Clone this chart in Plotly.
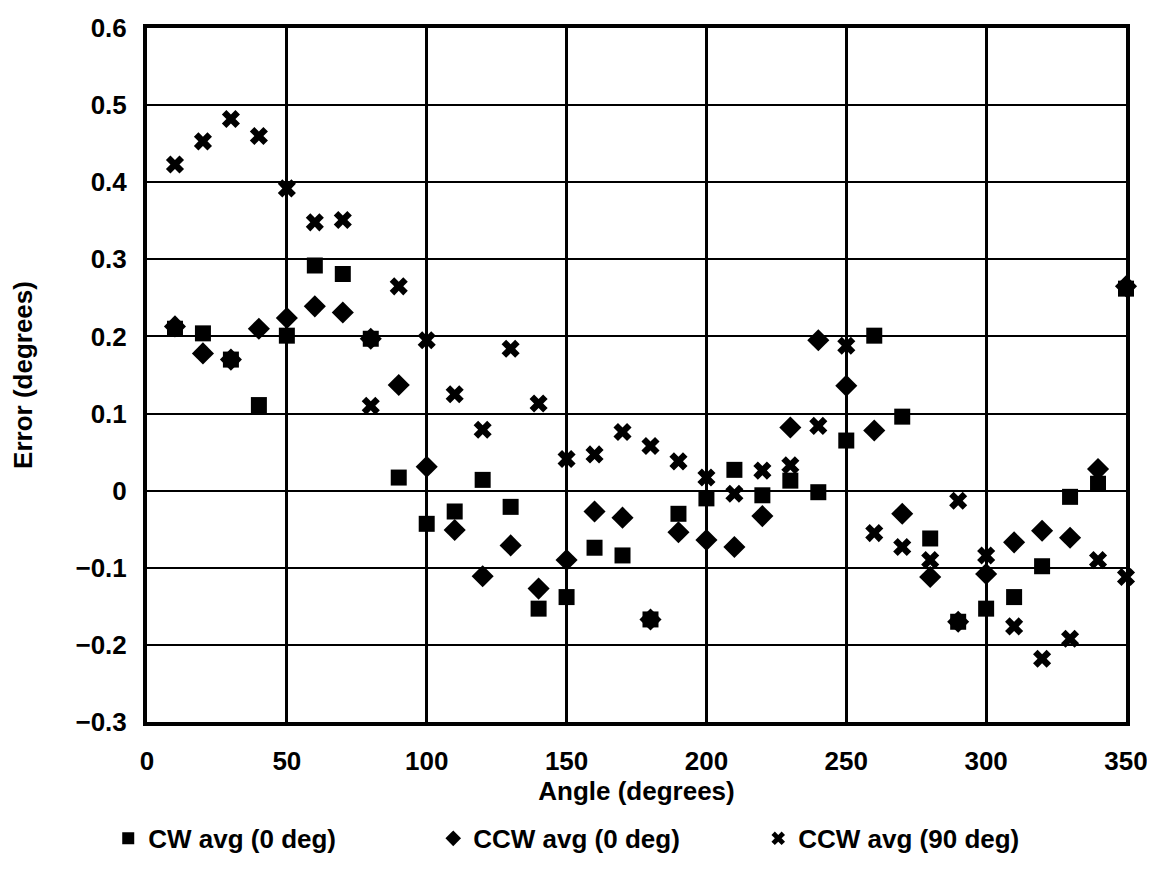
import plotly.graph_objects as go

angles = [10, 20, 30, 40, 50, 60, 70, 80, 90, 100, 110, 120, 130, 140, 150, 160, 170, 180,
          190, 200, 210, 220, 230, 240, 250, 260, 270, 280, 290, 300, 310, 320, 330, 340, 350]

cw_0deg = [0.210, 0.204, 0.170, 0.111, 0.201, 0.292, 0.281, 0.197, 0.017, -0.043,
           -0.027, 0.014, -0.021, -0.153, -0.138, -0.074, -0.084, -0.167, -0.030, -0.010,
           0.027, -0.006, 0.013, -0.002, 0.065, 0.201, 0.096, -0.062, -0.170, -0.153,
           -0.138, -0.098, -0.008, 0.009, 0.262]

ccw_0deg = [0.213, 0.178, 0.170, 0.210, 0.224, 0.239, 0.231, 0.197, 0.137, 0.031,
            -0.051, -0.111, -0.071, -0.127, -0.090, -0.027, -0.035, -0.167, -0.054, -0.064,
            -0.073, -0.033, 0.082, 0.195, 0.136, 0.078, -0.030, -0.112, -0.170, -0.108,
            -0.067, -0.052, -0.061, 0.028, 0.265]

ccw_90deg = [0.423, 0.453, 0.482, 0.460, 0.392, 0.348, 0.351, 0.110, 0.265, 0.195,
             0.125, 0.079, 0.184, 0.113, 0.041, 0.047, 0.076, 0.058, 0.038, 0.017,
             -0.004, 0.026, 0.033, 0.084, 0.188, -0.055, -0.073, -0.090, -0.013, -0.084,
             -0.176, -0.218, -0.192, -0.090, -0.112]

x_ticks = [0, 50, 100, 150, 200, 250, 300, 350]
y_ticks = [-0.3, -0.2, -0.1, 0, 0.1, 0.2, 0.3, 0.4, 0.5, 0.6]
y_tick_labels = ["\u22120.3", "\u22120.2", "\u22120.1", "0", "0.1", "0.2", "0.3", "0.4", "0.5", "0.6"]

FONT = dict(family="Liberation Sans", size=26, color="black", weight="bold")

fig = go.Figure()

fig.add_trace(go.Scatter(
    x=angles, y=cw_0deg, mode="markers", name="CW avg (0 deg)",
    marker=dict(symbol="square", size=16, color="black"), cliponaxis=False
))
fig.add_trace(go.Scatter(
    x=angles, y=ccw_0deg, mode="markers", name="CCW avg (0 deg)",
    marker=dict(symbol="diamond", size=17, color="black"), cliponaxis=False
))
fig.add_trace(go.Scatter(
    x=angles, y=ccw_90deg, mode="markers", name="CCW avg (90 deg)",
    marker=dict(symbol="x", size=16, color="black"), cliponaxis=False
))

fig.update_xaxes(
    range=[0, 350], tickvals=x_ticks,
    showgrid=True, gridcolor="black", gridwidth=3,
    showline=True, linecolor="black", linewidth=4, mirror=True,
    zeroline=False, ticks="", ticklabelstandoff=13, automargin=False,
    ticklabeloverflow="allow",
    title=dict(text="Angle (degrees)", font=FONT, standoff=8),
    tickfont=FONT,
)
fig.update_yaxes(
    range=[-0.3, 0.6], tickvals=y_ticks, ticktext=y_tick_labels,
    showgrid=True, gridcolor="black", gridwidth=2,
    showline=True, linecolor="black", linewidth=4, mirror=True,
    zeroline=False, ticks="", ticklabelstandoff=11, automargin=False,
    ticklabeloverflow="allow",
    title=dict(text="Error (degrees)", font=FONT, standoff=43),
    tickfont=FONT,
)

# page body adds an 8px margin, so the figure is sized to fit inside it
fig.update_layout(
    width=1139, height=853,
    margin=dict(l=139, r=21, t=20, b=139, autoexpand=False),
    plot_bgcolor="white", paper_bgcolor="white",
    font=FONT,
    showlegend=True,
    legend=dict(
        orientation="h", xref="container", yref="container",
        x=0.088, y=0.054, xanchor="left", yanchor="top",
        entrywidth=280, entrywidthmode="pixels",
        font=FONT, itemsizing="constant",
    ),
)

fig.write_html("out.html")
